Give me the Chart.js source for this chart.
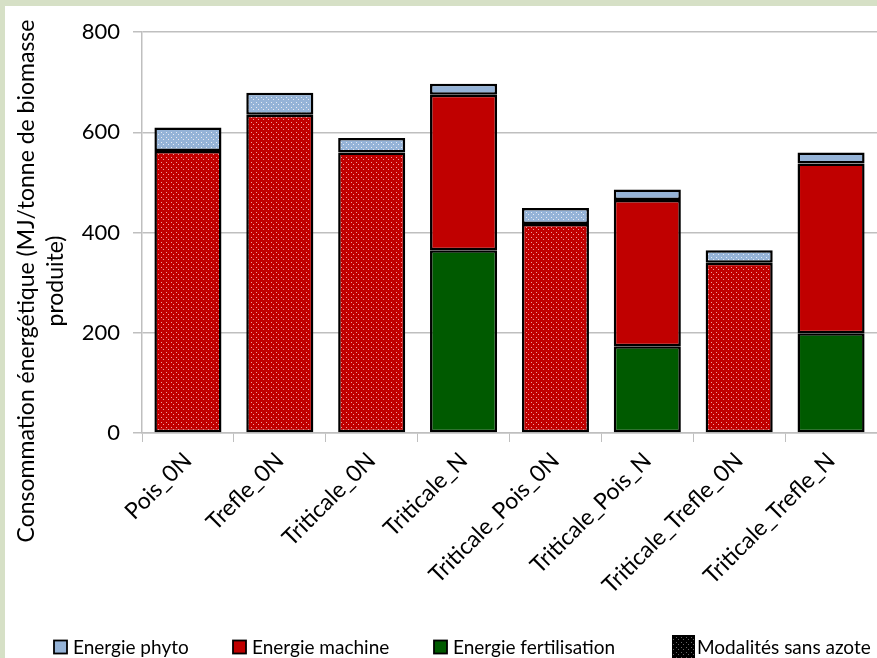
<!DOCTYPE html>
<html>
<head>
<meta charset="utf-8">
<script src="https://cdn.jsdelivr.net/npm/chart.js@4"></script>
<style>
  html, body { margin: 0; padding: 0; }
  body { width: 877px; height: 658px; background: #d6e0c6; overflow: hidden; position: relative; }
  #wrap { position: absolute; left: 5px; top: 6px; width: 872px; height: 652px; background: #fff; }
</style>
</head>
<body>
<div id="wrap"><canvas id="energyChart"></canvas></div>
<script>
// categories and values (MJ / tonne de biomasse produite)
var modalites = ['Pois_0N', 'Trefle_0N', 'Triticale_0N', 'Triticale_N', 'Triticale_Pois_0N', 'Triticale_Pois_N', 'Triticale_Trefle_0N', 'Triticale_Trefle_N'];
var energieFertilisation = [null, null, null, 365, null, 173, null, 199];
var energieMachine = [563, 635, 560, 310, 417, 292, 340, 339];
var energiePhyto = [47, 44, 29, 22, 32, 21, 25, 22];
var sansAzote = [true, true, true, false, true, false, true, false];
var yTicks = [0, 200, 400, 600, 800];
var yTitle = ['Consommation énergétique (MJ/tonne de biomasse', 'produite)'];
var legendSansAzote = 'Modalités sans azote';

var FONT = 'Lato, "Open Sans", sans-serif';

// motif pointillé pour les modalités sans azote
function dots(color, dotColor) {
    var c = document.createElement('canvas');
    c.width = 5; c.height = 5;
    var g = c.getContext('2d');
    g.fillStyle = color;
    g.fillRect(0, 0, 5, 5);
    g.fillStyle = dotColor;
    g.fillRect(1, 1, 1, 1);
    g.fillRect(3, 3, 1, 1);
    return g.createPattern(c, 'repeat');
}

function fills(color, dotColor) {
    var pat = dots(color, dotColor);
    return sansAzote.map(function(s) { return s ? pat : color; });
}

var blackDots = dots('#000', '#666');

// titre de l'axe Y (centré comme dans Excel, sur toute la hauteur)
var yTitlePlugin = {
    id: 'yTitle',
    afterDraw: function(chart) {
        var c = chart.ctx;
        c.save();
        c.translate(0, 275);
        c.rotate(-Math.PI / 2);
        c.fillStyle = '#000';
        c.font = '23px ' + FONT;
        c.textAlign = 'center';
        c.textBaseline = 'middle';
        c.fillText(yTitle[0], 0, 22);
        c.fillText(yTitle[1], 0, 51);
        c.restore();
    }
};

// légende en bas, espacée comme dans l'original
var legendPlugin = {
    id: 'bottomLegend',
    afterDraw: function(chart) {
        var c = chart.ctx;
        var ds = chart.data.datasets.slice().reverse();
        var xs = [49, 228, 429];
        var y = 641;
        c.save();
        c.font = '19px ' + FONT;
        c.textBaseline = 'middle';
        ds.forEach(function(d, i) {
            c.fillStyle = d.legendColor;
            c.fillRect(xs[i], y - 6.5, 13, 13);
            c.strokeStyle = '#000';
            c.lineWidth = 1.8;
            c.strokeRect(xs[i], y - 6.5, 13, 13);
            c.fillStyle = '#000';
            c.fillText(d.label, xs[i] + 19, y + 1);
        });
        c.fillStyle = blackDots;
        c.fillRect(667, y - 12, 23, 23);
        c.fillStyle = '#000';
        c.fillText(legendSansAzote, 692, y + 1);
        c.restore();
    }
};

var ctx = document.getElementById('energyChart').getContext('2d');

var energyChart = new Chart(ctx, {
    type: 'bar',
    data: {
        labels: modalites,
        datasets: [{
            label: 'Energie fertilisation',
            data: energieFertilisation,
            backgroundColor: fills('#005a00', 'rgba(255,255,255,0.6)'),
            legendColor: '#005a00'
        }, {
            label: 'Energie machine',
            data: energieMachine,
            backgroundColor: fills('#c00000', 'rgba(255,210,210,0.75)'),
            legendColor: '#c00000'
        }, {
            label: 'Energie phyto',
            data: energiePhyto,
            backgroundColor: fills('#95b3d7', 'rgba(255,255,255,0.75)'),
            legendColor: '#95b3d7'
        }]
    },
    plugins: [yTitlePlugin, legendPlugin],
    options: {
        responsive: true,
        maintainAspectRatio: false,
        animation: false,
        datasets: {
            bar: {
                borderColor: '#000',
                borderWidth: 2.5,
                borderSkipped: false,
                categoryPercentage: 0.73,
                barPercentage: 1
            }
        },
        layout: { padding: { top: 14, right: 0, left: 0, bottom: 57 } },
        plugins: {
            tooltip: { enabled: false },
            legend: { display: false }
        },
        scales: {
            x: {
                stacked: true,
                grid: {
                    offset: true,
                    drawOnChartArea: false,
                    drawTicks: true,
                    tickLength: 9,
                    color: '#bfbfbf'
                },
                border: { color: '#bfbfbf', width: 1.5 },
                ticks: {
                    color: '#000',
                    font: { family: FONT, size: 23 },
                    maxRotation: 45,
                    minRotation: 45,
                    autoSkip: false,
                    padding: 5
                },
                afterFit: function(scale) { scale.height = 168; }
            },
            y: {
                stacked: true,
                min: 0,
                max: 800,
                afterBuildTicks: function(scale) {
                    scale.ticks = yTicks.map(function(v) { return { value: v }; });
                },
                grid: {
                    color: '#bfbfbf',
                    lineWidth: 1.5,
                    tickLength: 9
                },
                border: { color: '#bfbfbf', width: 1.5 },
                ticks: {
                    color: '#000',
                    font: { family: FONT, size: 22 },
                    padding: 13
                },
                afterFit: function(scale) { scale.width = 137; }
            }
        }
    }
});
</script>
</body>
</html>
